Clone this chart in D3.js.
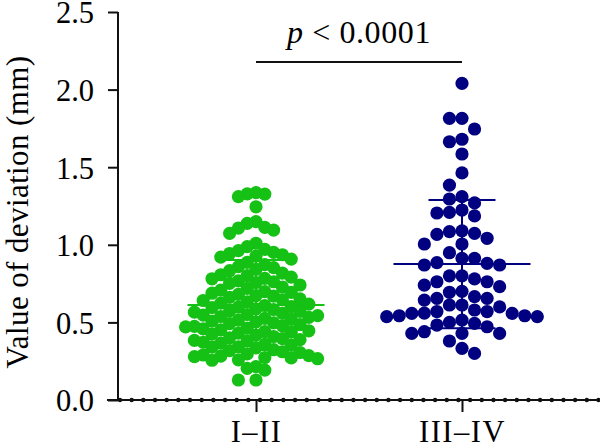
<!DOCTYPE html>
<html>
<head>
<meta charset="utf-8">
<script src="https://cdn.jsdelivr.net/npm/d3@7"></script>
<style>
  html, body { margin: 0; padding: 0; background: #fff; }
  svg { display: block; }
  text { font-family: "Liberation Serif", "DejaVu Serif", serif; fill: #000; }
</style>
</head>
<body>
<svg id="chart" width="600" height="448"></svg>
<script>
// Groups and colours
const groups = ["I–II", "III–IV"];
const groupColors = ["#14c114", "#000080"];

// Values (mm)
const valuesI_II = [
  1.336, 1.327, 1.328, 1.31, 1.245, 1.149, 1.138, 1.112, 1.108, 1.095, 1.074, 1.01, 0.988, 0.97,
  0.962, 0.951, 0.944, 0.936, 0.927, 0.921, 0.908,
  0.887, 0.872, 0.859, 0.853, 0.842, 0.833, 0.818, 0.807, 0.801,
  0.792, 0.784, 0.781, 0.768, 0.762, 0.757, 0.752, 0.741, 0.728, 0.719, 0.708, 0.698,
  0.694, 0.688, 0.681, 0.672, 0.669, 0.661, 0.652, 0.646, 0.641, 0.633, 0.624, 0.618, 0.609, 0.602,
  0.598, 0.596, 0.588, 0.583, 0.574, 0.571, 0.566, 0.559, 0.551, 0.547, 0.544, 0.538, 0.532, 0.526, 0.519, 0.515, 0.508, 0.503,
  0.497, 0.492, 0.486, 0.478, 0.474, 0.471, 0.463, 0.458, 0.452, 0.446, 0.441, 0.437, 0.431, 0.424, 0.418, 0.409, 0.401,
  0.396, 0.389, 0.384, 0.381, 0.372, 0.366, 0.358, 0.353, 0.343, 0.341, 0.336, 0.324, 0.318, 0.311, 0.306,
  0.297, 0.29, 0.286, 0.283, 0.279, 0.274, 0.271, 0.266, 0.259, 0.256,
  0.215, 0.204, 0.193,
  0.129, 0.129
];
const valuesIII_IV = [
  2.04, 1.815, 1.815, 1.746, 1.68, 1.664, 1.585, 1.463, 1.385, 1.31, 1.295, 1.27,
  1.224, 1.209, 1.205, 1.186, 1.09, 1.085, 1.074, 1.067, 1.042, 1.005, 1.005,
  0.949, 0.913, 0.913, 0.885, 0.88, 0.87, 0.87, 0.80, 0.80, 0.78, 0.762, 0.762,
  0.74, 0.73, 0.70, 0.694, 0.666, 0.655, 0.655, 0.644, 0.612, 0.612, 0.60,
  0.58, 0.57, 0.57, 0.56, 0.558, 0.558, 0.543, 0.543, 0.537, 0.537,
  0.515, 0.50, 0.494, 0.483, 0.472, 0.44, 0.429, 0.429, 0.429, 0.38, 0.333, 0.30
];
const groupValues = [valuesI_II, valuesIII_IV];

// Mean and SD lines as drawn
const means = [0.612, 0.876];
const sds = [0.29, 0.413];

const yTicks = [0, 0.5, 1.0, 1.5, 2.0, 2.5];
const yLabel = "Value of deviation (mm)";
const pLabel = "0.0001";

const svg = d3.select("#chart");
const axisX = 118, baseY = 400;

const y = d3.scaleLinear().domain([0, 2.5]).range([baseY, 12]);
const x = d3.scalePoint().domain(groups).range([axisX, 600]).padding(0.67);

// column-stacked swarm: slots 0, -1, +1, -2, +2 ...
function swarm(vals, step, gap) {
  const cols = new Map();
  const out = [];
  [...vals].sort((a, b) => b - a).forEach(v => {
    const py = y(v);
    for (let k = 0; ; k++) {
      const slot = k === 0 ? 0 : (k % 2 ? -Math.ceil(k / 2) : k / 2);
      const ys = cols.get(slot) || [];
      if (ys.every(q => Math.abs(q - py) >= gap)) {
        ys.push(py); cols.set(slot, ys);
        out.push({ v, dx: slot * step });
        break;
      }
    }
  });
  return out;
}

const steps = [8.8, 12.55];
const r = 6.6;

// mean + SD lines (behind the dots)
groups.forEach((gname, i) => {
  const cx = x(gname), c = groupColors[i];
  const g = svg.append("g").attr("stroke", c).attr("stroke-width", 2);
  g.append("line").attr("x1", cx - 68.5).attr("x2", cx + 68.5)
    .attr("y1", y(means[i])).attr("y2", y(means[i]));
  g.append("line").attr("x1", cx).attr("x2", cx)
    .attr("y1", y(means[i] - sds[i])).attr("y2", y(means[i] + sds[i]));
  [means[i] - sds[i], means[i] + sds[i]].forEach(v => {
    g.append("line").attr("x1", cx - 33.5).attr("x2", cx + 33.5)
      .attr("y1", y(v)).attr("y2", y(v));
  });
});

// dots
groups.forEach((gname, i) => {
  const pts = swarm(groupValues[i], steps[i], 12.5);
  svg.append("g").selectAll("circle").data(pts).enter().append("circle")
    .attr("cx", d => x(gname) + d.dx)
    .attr("cy", d => y(d.v))
    .attr("r", r)
    .attr("fill", groupColors[i]);
});

// y axis
const yAxis = svg.append("g").attr("transform", `translate(${axisX},0)`)
  .call(d3.axisLeft(y).tickValues(yTicks).tickFormat(d3.format(".1f")).tickSize(10).tickPadding(14));
yAxis.select(".domain").attr("stroke", "#111").attr("stroke-width", 2).attr("d", `M0,${baseY}V12`);
yAxis.selectAll(".tick line").attr("stroke", "#111").attr("stroke-width", 2);
yAxis.selectAll(".tick text").style("font-size", "30.5px").attr("fill", "#000")
  .attr("font-family", "Liberation Serif, serif").attr("dy", "0.36em");

// x axis: solid line with small dots
svg.append("line").attr("x1", 107).attr("x2", 600).attr("y1", baseY).attr("y2", baseY)
  .attr("stroke", "#111").attr("stroke-width", 2);
svg.append("g").selectAll("circle").data(d3.range(120, 601, 11.67)).enter().append("circle")
  .attr("cx", d => d).attr("cy", baseY).attr("r", 2.2).attr("fill", "#111");
const xAxis = svg.append("g").attr("transform", `translate(0,${baseY})`)
  .call(d3.axisBottom(x).tickSize(12).tickPadding(14));
xAxis.select(".domain").remove();
xAxis.selectAll(".tick line").attr("stroke", "#111").attr("stroke-width", 2);
xAxis.selectAll(".tick text").style("font-size", "30.5px").style("letter-spacing", "1.5px")
  .attr("fill", "#000").attr("font-family", "Liberation Serif, serif").attr("dy", "0.53em");

// y label
svg.append("text")
  .attr("transform", "translate(28,212) rotate(-90)")
  .attr("text-anchor", "middle")
  .style("font-size", "31px")
  .style("letter-spacing", "0.4px")
  .text(yLabel);

// significance bracket
svg.append("line").attr("x1", x(groups[0])).attr("x2", x(groups[1]))
  .attr("y1", 62).attr("y2", 62).attr("stroke", "#111").attr("stroke-width", 2);
const pt = svg.append("text").attr("x", 359).attr("y", 43).attr("text-anchor", "middle")
  .style("font-size", "32px").style("letter-spacing", "0.6px");
pt.append("tspan").attr("font-style", "italic").text("p");
pt.append("tspan").text(" < " + pLabel);
</script>
</body>
</html>
